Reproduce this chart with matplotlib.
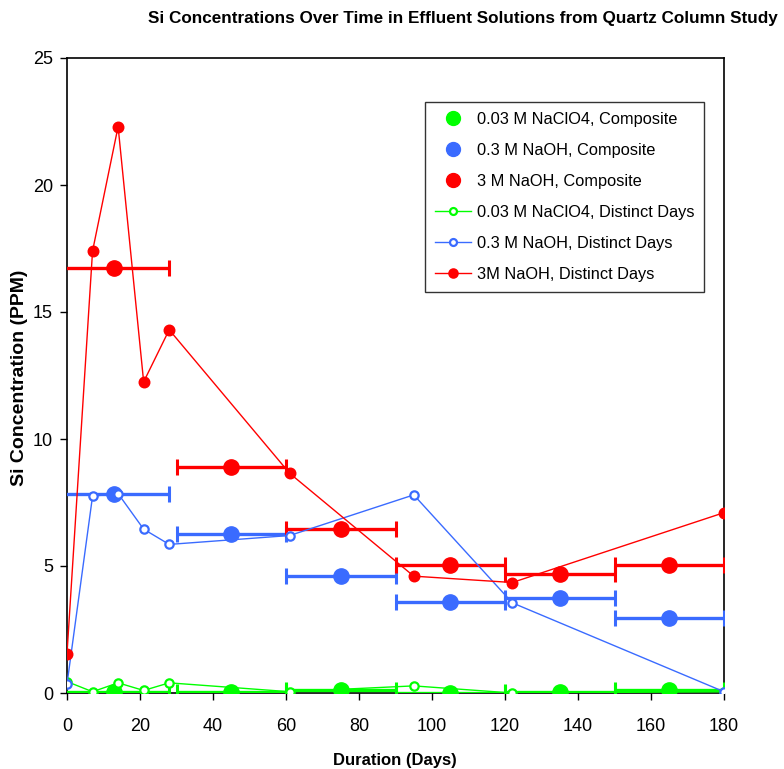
import matplotlib
matplotlib.use("Agg")
import matplotlib.pyplot as plt
from matplotlib.lines import Line2D

# ---- data ----
distinct_days = [0, 7, 14, 21, 28, 61, 95, 122, 180]
green_distinct = [0.45, 0.05, 0.4, 0.1, 0.4, 0.05, 0.28, 0.0, 0.05]
blue_distinct = [0.35, 7.75, 7.85, 6.45, 5.85, 6.2, 7.8, 3.55, 0.05]
red_distinct = [1.55, 17.4, 22.3, 12.25, 14.3, 8.65, 4.6, 4.35, 7.1]

composite_days = [13, 45, 75, 105, 135, 165]
period_start = [-1.5, 30, 60, 90, 120, 150]
period_end = [28, 60, 90, 120, 150, 180]
green_composite = [0.05, 0.05, 0.1, 0.0, 0.05, 0.1]
blue_composite = [7.85, 6.25, 4.6, 3.6, 3.75, 2.95]
red_composite = [16.75, 8.9, 6.45, 5.05, 4.7, 5.05]

title = "Si Concentrations Over Time in Effluent Solutions from Quartz Column Study"
xlabel = "Duration (Days)"
ylabel = "Si Concentration (PPM)"
x_ticks = [0, 20, 40, 60, 80, 100, 120, 140, 160, 180]
y_ticks = [0, 5, 10, 15, 20, 25]

GREEN = "#00FF00"
BLUE = "#3A6BFF"
RED = "#FF0000"

plt.rcParams["font.family"] = ["Liberation Sans", "DejaVu Sans"]

fig = plt.figure(figsize=(7.84, 7.69), dpi=100)
ax = fig.add_axes([67 / 784, 1 - 693 / 769, (724 - 67) / 784, (693 - 58) / 769])

xerr_lo = [c - s for c, s in zip(composite_days, period_start)]
xerr_hi = [e - c for c, e in zip(composite_days, period_end)]

comp_sets = [(green_composite, GREEN, "0.03 M NaClO4, Composite"),
             (blue_composite, BLUE, "0.3 M NaOH, Composite"),
             (red_composite, RED, "3 M NaOH, Composite")]
for vals, col, lab in comp_sets:
    ax.errorbar(composite_days, vals, xerr=[xerr_lo, xerr_hi], fmt="o",
                color=col, ms=11, elinewidth=2.4, capsize=6, capthick=2.2,
                label=lab, zorder=3)

dist_sets = [(green_distinct, GREEN, "0.03 M NaClO4, Distinct Days", "white", 6),
             (blue_distinct, BLUE, "0.3 M NaOH, Distinct Days", "white", 6),
             (red_distinct, RED, "3M NaOH, Distinct Days", RED, 7)]
for vals, col, lab, fc, ms in dist_sets:
    ax.plot(distinct_days, vals, "-o", color=col, lw=1.0, ms=ms,
            mfc=fc, mec=col, mew=1.6, label=lab, zorder=4)

ax.set_xlim(0, 180)
ax.set_ylim(0, 25)
ax.set_xticks(x_ticks)
ax.set_yticks(y_ticks)
ax.tick_params(direction="out", length=5, width=1, labelsize=13)
ax.tick_params(axis="x", pad=13)
ax.tick_params(axis="y", pad=5)
for s in ax.spines.values():
    s.set_linewidth(1.2)
    s.set_color("black")

leg_handles = []
for vals, col, lab in comp_sets:
    leg_handles.append(Line2D([], [], ls="none", marker="o", color=col, ms=10, label=lab))
for vals, col, lab, fc, ms in dist_sets:
    leg_handles.append(Line2D([], [], ls="-", lw=1.0, marker="o", color=col, ms=ms - 1,
                              mfc=fc, mec=col, mew=1.6, label=lab))
leg = ax.legend(handles=leg_handles, loc="upper right",
                bbox_to_anchor=((704 - 67) / 657, (693 - 102) / 635),
                fontsize=11.8, frameon=True, fancybox=False, edgecolor="black",
                handlelength=2.2, handletextpad=0.35, labelspacing=0.98,
                borderpad=0.6, borderaxespad=0)
leg.get_frame().set_linewidth(1.0)

fig.text(463 / 784, 1 - 18 / 769, title, ha="center", va="center",
         fontsize=12.3, fontweight="bold")
fig.text(395 / 784, 1 - 760 / 769, xlabel, ha="center", va="center",
         fontsize=12, fontweight="bold")
fig.text(20 / 784, 1 - 378 / 769, ylabel, ha="center", va="center", rotation=90,
         fontsize=14, fontweight="bold")

fig.savefig("out.png", dpi=100)
